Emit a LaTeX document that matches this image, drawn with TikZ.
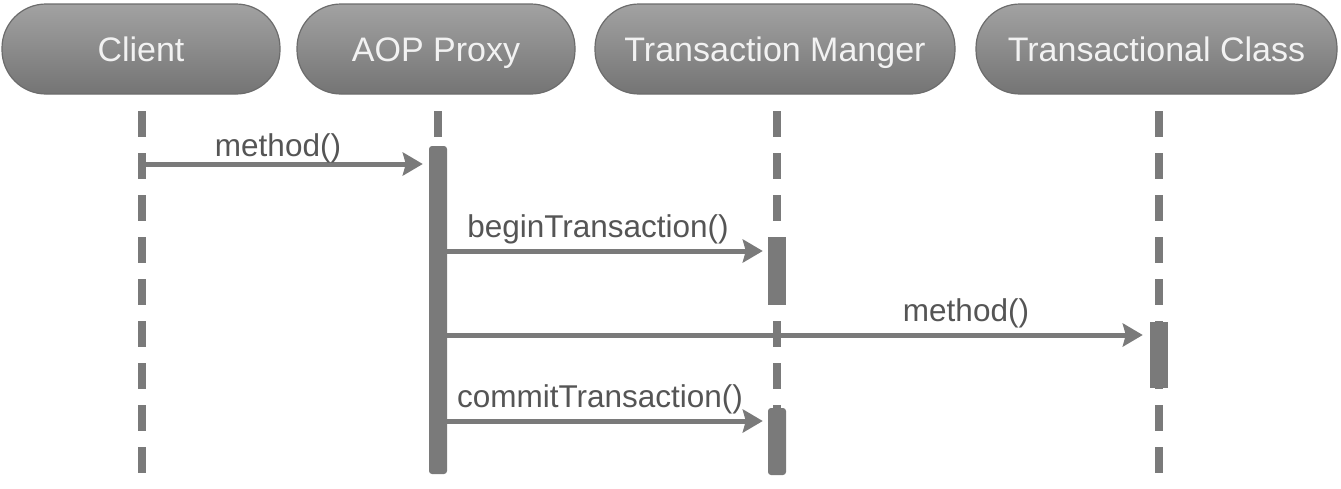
\documentclass[tikz,border=0pt]{standalone}
\usepackage{fontspec}
\setmainfont{Liberation Sans}
\usetikzlibrary{arrows.meta}
\definecolor{ln}{HTML}{7A7A7A}
\definecolor{pilltop}{HTML}{A2A2A2}
\definecolor{pillbot}{HTML}{747474}
\definecolor{pillrim}{HTML}{6C6C6C}
\definecolor{pilltext}{HTML}{F2F2F2}
\tikzset{
  pill/.style={rectangle, rounded corners=44pt, minimum height=90pt, inner sep=0pt,
    top color=pilltop, bottom color=pillbot, draw=pillrim, line width=1.2pt,
    text=pilltext, font=\fontsize{34}{40}\selectfont, text height=24.5pt, text depth=0pt},
  lifeline/.style={draw=ln, line width=8.5pt, dash pattern=on 26pt off 16pt},
  actbar/.style={rectangle, fill=ln, draw=none, minimum width=18pt, inner sep=0pt},
  msg/.style={draw=ln, line width=5pt, -{Stealth[length=20pt,width=23pt,inset=3pt]}},
  lbl/.style={text=ln!70!black, font=\fontsize{31.5}{36}\selectfont, anchor=base, inner sep=0pt}
}
\begin{document}
\begin{tikzpicture}[x=1pt,y=-1pt]
\useasboundingbox (0,0) rectangle (1341,488);
% header pills
\node[pill, minimum width=278pt] (client) at (141,49) {Client};
\node[pill, minimum width=278pt] (proxy) at (436,49) {AOP Proxy};
\node[pill, minimum width=360pt] (tm) at (775,49) {Transaction Manger};
\node[pill, minimum width=361pt] (tc) at (1156.5,49) {Transactional Class};
% lifeline ends
\coordinate (clT) at (142,111); \coordinate (clB) at (142,476);
\coordinate (prT) at (438,111); \coordinate (prB) at (438,476);
\coordinate (tmT) at (777,111); \coordinate (tmB) at (777,476);
\coordinate (tcT) at (1159,111); \coordinate (tcB) at (1159,476);
\draw[lifeline] (clT) -- (clB);
\draw[lifeline] (prT) -- (prB);
\draw[lifeline] (tmT) -- (tmB);
\draw[lifeline] (tcT) -- (tcB);
% activation bars
\node[actbar, minimum height=328pt, rounded corners=3pt] (actP) at (438,310) {};
\node[actbar, minimum height=68pt] (actM1) at (777,271) {};
\node[actbar, minimum height=66pt] (actC) at (1159,355) {};
\node[actbar, minimum height=67pt, rounded corners=3pt] (actM2) at (777,441.5) {};
% messages
\coordinate (m1s) at (142,164);
\draw[msg, shorten >=6pt] (m1s) -- (actP.west |- m1s);
\coordinate (m2s) at (447,251);
\draw[msg, shorten >=5pt] (actP.east |- m2s) -- (actM1.west |- m2s);
\coordinate (m3s) at (447,335);
\draw[msg, shorten >=7pt] (actP.east |- m3s) -- (actC.west |- m3s);
\coordinate (m4s) at (447,421);
\draw[msg, shorten >=5pt] (actP.east |- m4s) -- (actM2.west |- m4s);
% labels
\node[lbl] (l1) at (278,156) {method()};
\node[lbl] (l2) at (598,237) {beginTransaction()};
\node[lbl] (l3) at (966,321) {method()};
\node[lbl] (l4) at (600,407) {commitTransaction()};
\end{tikzpicture}
\end{document}
